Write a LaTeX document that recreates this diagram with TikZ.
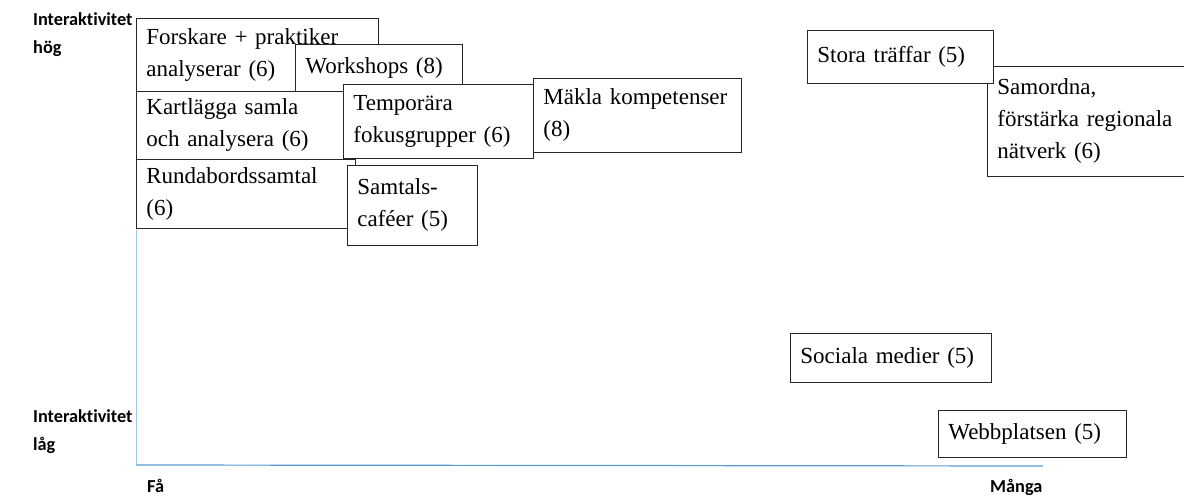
\documentclass[tikz,border=0pt]{standalone}
\usepackage{fontspec}
\setmainfont{Liberation Serif}
\newfontfamily\axisfont[Ligatures=NoCommon]{Carlito}
\definecolor{axisblue}{RGB}{91,155,213}
\definecolor{axislight}{RGB}{160,198,232}
\begin{document}
\begin{tikzpicture}[x=1pt,y=-1pt]

  \useasboundingbox (0,0) rectangle (1184,500);
  \clip (0,0) rectangle (1184,500);

  \coordinate (top)    at (136,20);
  \coordinate (origin) at (136,465);
  \coordinate (end)    at (1043,466);

  \draw[axislight, line width=1pt] (top) -- (origin);
  \draw[axisblue, line width=1.2pt] (origin) -- (end);

  \begin{scope}[every node/.style={font=\axisfont\bfseries\fontsize{18.3}{28}\selectfont,
      inner sep=0pt, anchor=north west, align=left}]
    \node (hog)   at (33,12)   {Interaktivitet\\hög};
    \node (lag)   at (33,409)  {Interaktivitet\\låg};
    \node (fa)    at (147,479) {Få};
    \node (manga) at (990,479) {Många};
  \end{scope}

  \begin{scope}[every node/.style={draw=black!85, line width=0.8pt, fill=white,
      anchor=north west, align=left, inner xsep=10pt, inner ysep=0pt,
      font=\fontsize{23}{32}\selectfont}]
    \node[minimum height=73, text width=222pt] (forskare)   at (136,18)  {Forskare + praktiker\\analyserar (6)};
    \node[minimum height=47, text width=147pt] (workshops)  at (295,44)  {Workshops (8)};
    \node[minimum height=68, text width=194pt] (kartlagga)  at (136,91)  {Kartlägga samla\\och analysera (6)};
    \node[minimum height=74, text width=170pt] (temporara)  at (343,84)  {Temporära\\fokusgrupper (6)};
    \node[minimum height=74, text width=188pt] (makla)      at (533,78)  {Mäkla kompetenser\\(8)};
    \node[minimum height=69, text width=199pt] (runda)      at (136,159) {Rundabordssamtal\\(6)};
    \node[minimum height=80, text width=110pt] (samtal)     at (347,165) {Samtals-\\caféer (5)};
    \node[minimum height=110, text width=190pt] (samordna)  at (987,66)  {Samordna,\\förstärka regionala\\nätverk (6)};
    \node[minimum height=53, text width=166pt] (stora)      at (807,30)  {Stora träffar (5)};
    \node[minimum height=49, text width=181pt] (sociala)    at (790,333) {Sociala medier (5)};
    \node[minimum height=47, text width=168pt] (webb)       at (938,410) {Webbplatsen (5)};
  \end{scope}

\end{tikzpicture}
\end{document}
